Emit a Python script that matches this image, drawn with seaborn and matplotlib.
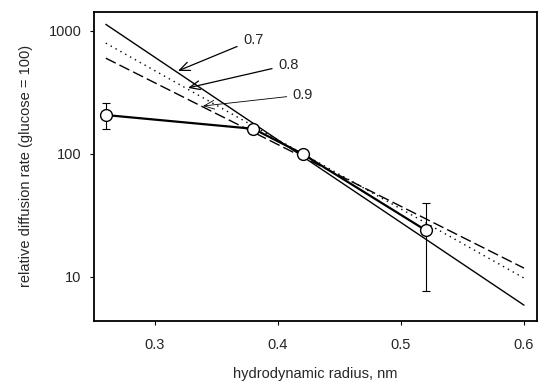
import numpy as np
import pandas as pd
import seaborn as sns
import matplotlib.pyplot as plt

# measured points
radius = [0.26, 0.38, 0.42, 0.52]
rate = [207, 160, 100, 24]
err_low = [160, 160, 100, 7.7]
err_high = [258, 160, 100, 40]

# fitted lines (end points)
line_x = [0.26, 0.60]
line_07 = [1130, 5.9]
line_08 = [795, 9.8]
line_09 = [600, 11.8]

labels = ['0.7', '0.8', '0.9']
arrow_tips = [(0.3187, 473), (0.3268, 344), (0.339, 245)]
label_pos = [(0.3715, 845), (0.400, 529), (0.412, 302)]
arrow_lw = [0.9, 0.9, 0.6]

sns.set_style('ticks')
plt.rcParams['font.family'] = ['Liberation Sans', 'DejaVu Sans']

fig = plt.figure(figsize=(5.38, 3.83), dpi=100)
ax = fig.add_axes([0.1747, 0.162, 0.8235, 0.807])

lines = pd.DataFrame({'x': line_x * 3,
                      'y': line_07 + line_08 + line_09,
                      'n': ['0.7'] * 2 + ['0.8'] * 2 + ['0.9'] * 2})
sns.lineplot(data=lines, x='x', y='y', style='n', hue='n',
             palette=['black'] * 3,
             dashes={'0.7': '', '0.8': (1, 3), '0.9': (8, 3)},
             linewidth=1.0, legend=False, ax=ax)

yerr = [np.array(rate) - np.array(err_low), np.array(err_high) - np.array(rate)]
ax.errorbar(radius, rate, yerr=yerr, fmt='none', ecolor='black',
            elinewidth=0.8, capsize=3, capthick=0.8, zorder=3)
sns.lineplot(x=radius, y=rate, color='black', linewidth=1.6, marker='o',
             markersize=8.5, markerfacecolor='white', markeredgecolor='black',
             markeredgewidth=1.0, ax=ax, zorder=4)

for lab, tip, pos, lw in zip(labels, arrow_tips, label_pos, arrow_lw):
    ax.annotate(lab, xy=tip, xytext=pos, fontsize=10.5, va='center', ha='left',
                arrowprops=dict(arrowstyle='->,head_length=0.7,head_width=0.3',
                                color='black', lw=lw, shrinkA=2, shrinkB=0))

ax.set_yscale('log')
ax.set_xlim(0.2504, 0.6106)
ax.set_ylim(4.39, 1427)
ax.set_xticks([0.3, 0.4, 0.5, 0.6])
ax.set_xticklabels(['0.3', '0.4', '0.5', '0.6'])
ax.set_yticks([10, 100, 1000])
ax.set_yticklabels(['10', '100', '1000'])
ax.minorticks_off()
ax.tick_params(axis='both', labelsize=10.5, length=3, width=0.8, color='black')
ax.tick_params(axis='x', pad=9)
ax.tick_params(axis='y', pad=6)
for s in ax.spines.values():
    s.set_linewidth(1.3)
    s.set_color('black')

ax.set_xlabel('hydrodynamic radius, nm', fontsize=10.5, labelpad=11)
ax.set_ylabel('relative diffusion rate (glucose = 100)', fontsize=10.5, labelpad=11)

fig.savefig('out.png', dpi=100)
